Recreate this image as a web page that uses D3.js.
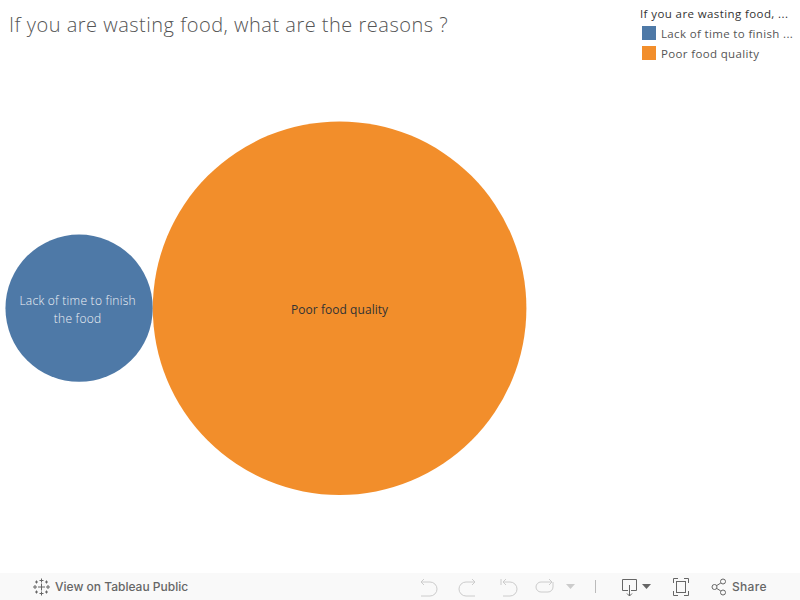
<!DOCTYPE html>
<html>
<head>
<meta charset="utf-8">
<script src="https://d3js.org/d3.v7.min.js"></script>
<style>
  html, body { margin: 0; padding: 0; background: #fff; overflow: hidden; }
  text { font-family: "Open Sans", sans-serif; }
</style>
</head>
<body>
<div id="vis"></div>
<script>
// chart values
const reasons = ["Lack of time to finish the food", "Poor food quality"];
const values = [7, 45];
const labelLines = [["Lack of time to finish", "the food"], ["Poor food quality"]];
const legendLabels = ["Lack of time to finish ...", "Poor food quality"];
const titleText = "If you are wasting food, what are the reasons ?";
const legendTitle = "If you are wasting food, ...";

const width = 800, height = 600;

const svg = d3.select("#vis")
  .append("svg")
  .attr("width", width)
  .attr("height", height)
  .style("display", "block");

const color = d3.scaleOrdinal()
  .domain(reasons)
  .range(["#4e79a7", "#f28e2b"]);

// bubble area is proportional to value
const radius = d3.scaleSqrt()
  .domain([0, d3.max(values)])
  .range([0, 186.8]);

// Title
svg.append("text")
  .attr("x", 9)
  .attr("y", 32)
  .attr("font-size", 20)
  .attr("font-weight", 300)
  .attr("letter-spacing", 0.5)
  .attr("fill", "#555")
  .text(titleText);

// Bubbles
const bubbles = reasons.map((r, i) => ({ reason: r, value: values[i], lines: labelLines[i], r: radius(values[i]) }));
d3.packSiblings(bubbles);

// packSiblings puts the big bubble at x = small radius, so shift it to its place
const g = svg.append("g")
  .attr("transform", `translate(${339.6 - bubbles[1].x},308.2)`);

g.selectAll("circle")
  .data(bubbles)
  .enter()
  .append("circle")
  .attr("cx", d => d.x)
  .attr("cy", d => d.y)
  .attr("r", d => d.r)
  .attr("fill", d => color(d.reason));

const labels = g.selectAll("text.label")
  .data(bubbles)
  .enter()
  .append("text")
  .attr("class", "label")
  .attr("text-anchor", "middle")
  .attr("font-size", 12)
  .attr("font-weight", (d, i) => i === 0 ? 300 : 400)
  .attr("letter-spacing", (d, i) => i === 0 ? 0.25 : 0.05)
  .attr("fill", (d, i) => i === 0 ? "#eef1f5" : "#333");

labels.selectAll("tspan")
  .data(d => d.lines.map((l, i) => ({ l, i, n: d.lines.length, x: d.x, y: d.y })))
  .enter()
  .append("tspan")
  .attr("x", d => d.x - (d.n > 1 ? 1.5 : 0))
  .attr("y", d => d.y + 6 + (d.i - (d.n - 1) / 2) * 18)
  .text(d => d.l);

// Legend
svg.append("text")
  .attr("x", 640)
  .attr("y", 18)
  .attr("font-size", 11.5)
  .attr("font-weight", 500)
  .attr("letter-spacing", 0.4)
  .attr("fill", "#333")
  .text(legendTitle);

const legend = svg.selectAll("g.legend")
  .data(reasons)
  .enter()
  .append("g")
  .attr("class", "legend")
  .attr("transform", (d, i) => `translate(642,${26 + i * 20})`);

legend.append("rect")
  .attr("width", 14)
  .attr("height", 14)
  .attr("fill", d => color(d));

legend.append("text")
  .attr("x", 19)
  .attr("y", 11.5)
  .attr("font-size", 11.5)
  .attr("letter-spacing", 0.35)
  .attr("fill", "#555")
  .text((d, i) => legendLabels[i]);

// Tableau toolbar
const bar = svg.append("g").attr("transform", "translate(0,573)");
bar.append("rect").attr("width", width).attr("height", 27).attr("fill", "#f9f9f9");

bar.append("text")
  .attr("x", 55).attr("y", 18)
  .attr("font-size", 12)
  .attr("font-weight", 500)
  .attr("fill", "#666")
  .style("font-family", "Inter, sans-serif")
  .text("View on Tableau Public");

bar.append("text")
  .attr("x", 732).attr("y", 18)
  .attr("font-size", 12)
  .attr("font-weight", 500)
  .attr("letter-spacing", 0.3)
  .attr("fill", "#666")
  .style("font-family", "Inter, sans-serif")
  .text("Share");

// Tableau logo: small crosses
const logo = bar.append("g").attr("stroke", "#666").attr("stroke-width", 1).attr("fill", "none");
[[41.5, 14, 3.5], [35, 14, 2], [48, 14, 2], [41.5, 7.5, 2], [41.5, 20.5, 2], [36.5, 9, 1.5], [46.5, 9, 1.5], [36.5, 19, 1.5], [46.5, 19, 1.5]].forEach(c => {
  logo.append("path").attr("d", `M${c[0] - c[2]},${c[1]}H${c[0] + c[2]}M${c[0]},${c[1] - c[2]}V${c[1] + c[2]}`);
});

// undo, redo, revert, refresh (disabled look)
const off = bar.append("g").attr("fill", "none").attr("stroke", "#ccc").attr("stroke-width", 1);
off.append("path").attr("d", "M421,9H430a6,6 0 0 1 0,14H421M424,6L421,9L424,12");
off.append("path").attr("d", "M475,9H466a6,6 0 0 0 0,14H475M472,6L475,9L472,12");
off.append("path").attr("d", "M501,6V12M503,9H510a6,6 0 0 1 0,14H503M506,6L503,9L506,12");
off.append("path").attr("d", "M552,9H541a5,5 0 0 0 0,10H548a5,5 0 0 0 5,-5V9M549,6L552,9L549,12");
bar.append("path").attr("d", "M566,11H575L570.5,16Z").attr("fill", "#ccc");
bar.append("path").attr("d", "M595.5,7V20").attr("stroke", "#bbb");

// download, fullscreen, share
const on = bar.append("g").attr("fill", "none").attr("stroke", "#666").attr("stroke-width", 1);
on.append("path").attr("d", "M628,17.5H622.5V6.5H636.5V17.5H631M629.5,12V23M627,20.5L629.5,23L632,20.5");
bar.append("path").attr("d", "M642,11H651L646.5,16Z").attr("fill", "#666");
on.append("path").attr("d", "M673.5,10V5.5H678M684,5.5H688.5V10M688.5,18V22.5H684M678,22.5H673.5V18");
on.append("rect").attr("x", 676.5).attr("y", 8.5).attr("width", 9).attr("height", 11);
on.append("circle").attr("cx", 714.5).attr("cy", 14).attr("r", 2.5);
on.append("circle").attr("cx", 723).attr("cy", 8.5).attr("r", 2.5);
on.append("circle").attr("cx", 723).attr("cy", 19.5).attr("r", 2.5);
on.append("path").attr("d", "M716.7,12.6L720.8,10M716.7,15.4L720.8,18");
</script>
</body>
</html>
